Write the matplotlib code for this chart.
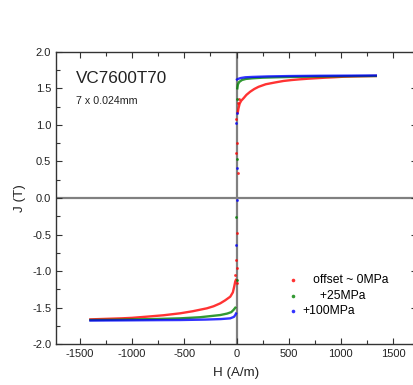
import matplotlib
matplotlib.use('Agg')
from matplotlib import pyplot as plt
from matplotlib.ticker import MultipleLocator

plt.rcParams['font.family'] = ['Liberation Sans', 'DejaVu Sans']
plt.rcParams['axes.unicode_minus'] = False

# red: offset ~ 0MPa
red_h_pos = [12, 19, 30, 45, 67, 95, 131, 170, 211, 280, 371, 450, 531, 610, 687, 770, 850, 940, 1025, 1130, 1230, 1335]
red_j_pos = [1.17, 1.226, 1.29, 1.33, 1.363, 1.41, 1.453, 1.49, 1.52, 1.555, 1.58, 1.60, 1.613, 1.623, 1.631, 1.638, 1.645, 1.651, 1.658, 1.662, 1.665, 1.668]
red_h_neg = [-1401, -1250, -1100, -1000, -858, -700, -539, -420, -284, -220, -156, -110, -60, -35, -22, -12, -6]
red_j_neg = [-1.659, -1.652, -1.645, -1.638, -1.622, -1.603, -1.576, -1.548, -1.508, -1.48, -1.44, -1.40, -1.349, -1.29, -1.21, -1.14, -1.12]
red_h_mid = [20, 10, -6, 5, -6, 10, 0, -8, 5, -10, 8]
red_j_mid = [1.35, 1.30, 1.08, 0.75, 0.62, 0.34, -0.48, -0.85, -0.96, -1.05, -1.16]

# green: +25MPa
green_h_pos = [8, 13, 25, 52, 90, 147, 250, 370, 550, 750, 950, 1150, 1335]
green_j_pos = [1.50, 1.55, 1.585, 1.613, 1.628, 1.636, 1.645, 1.65, 1.656, 1.66, 1.663, 1.666, 1.668]
green_h_neg = [-1400, -1200, -1000, -800, -539, -350, -156, -90, -50, -29, -12]
green_j_neg = [-1.668, -1.665, -1.66, -1.655, -1.645, -1.63, -1.60, -1.58, -1.56, -1.53, -1.50]
green_h_mid = [5, 3, -6, 3]
green_j_mid = [1.35, 0.54, -0.26, -1.12]

# blue: +100MPa
blue_h_pos = [5, 13, 40, 83, 150, 300, 500, 800, 1100, 1335]
blue_j_pos = [1.62, 1.627, 1.64, 1.65, 1.655, 1.662, 1.667, 1.671, 1.673, 1.675]
blue_h_neg = [-1400, -1100, -800, -539, -300, -150, -60, -25, -12, -5]
blue_j_neg = [-1.675, -1.673, -1.67, -1.668, -1.662, -1.655, -1.645, -1.625, -1.60, -1.58]
blue_h_mid = [6, -3, 3, 5, -2]
blue_j_mid = [1.16, 1.03, 0.41, -0.03, -0.64]

fig = plt.figure(figsize=(4.14, 3.85), dpi=100)
ax = fig.add_axes([0.1353, 0.1057, 0.872, 0.760])

ax.axhline(0, color='#808080', lw=1.6, zorder=1)
ax.axvline(0, color='#808080', lw=1.6, zorder=1)

series = [
    ('#ff0000', red_h_pos, red_j_pos, red_h_neg, red_j_neg, red_h_mid, red_j_mid, '   offset ~ 0MPa'),
    ('#008000', green_h_pos, green_j_pos, green_h_neg, green_j_neg, green_h_mid, green_j_mid, '     +25MPa'),
    ('#0000ff', blue_h_pos, blue_j_pos, blue_h_neg, blue_j_neg, blue_h_mid, blue_j_mid, '+100MPa'),
]
for c, hp, jp, hn, jn, hm, jm, lab in series:
    ax.plot(hp, jp, color=c, lw=1.7, alpha=0.8, zorder=3)
    ax.plot(hn, jn, color=c, lw=1.7, alpha=0.8, zorder=3)
    ax.scatter(hm, jm, color=c, s=4, lw=0, alpha=0.8, zorder=4, label=lab)

ax.set_xlim(-1730, 1730)
ax.set_ylim(-2.0, 2.0)
ax.xaxis.set_major_locator(MultipleLocator(500))
ax.xaxis.set_minor_locator(MultipleLocator(250))
ax.yaxis.set_major_locator(MultipleLocator(0.5))
ax.yaxis.set_minor_locator(MultipleLocator(0.25))
ax.tick_params(which='both', direction='in', top=True, right=True, labelsize=8, colors='#333333', labelcolor='#222222')
ax.tick_params(which='major', length=4, width=0.8)
ax.tick_params(which='minor', length=3, width=0.8)
for s in ax.spines.values():
    s.set_color('#333333')
    s.set_linewidth(1.0)

ax.set_xlabel('H (A/m)', fontsize=9.6, color='#222222', labelpad=6)
ax.set_ylabel('J (T)', fontsize=9.6, color='#222222', labelpad=4)

ax.text(0.055, 0.892, 'VC7600T70', transform=ax.transAxes, fontsize=12.3, color='#222222', va='baseline')
ax.text(0.055, 0.821, '7 x 0.024mm', transform=ax.transAxes, fontsize=7.7, color='#222222', va='baseline')

ax.legend(loc='lower left', bbox_to_anchor=(0.61, 0.055), frameon=False, fontsize=8.7,
          handletextpad=0.3, handlelength=1.0, labelspacing=0.3, scatterpoints=1, markerscale=1.3)

fig.savefig('out.png', dpi=100)
